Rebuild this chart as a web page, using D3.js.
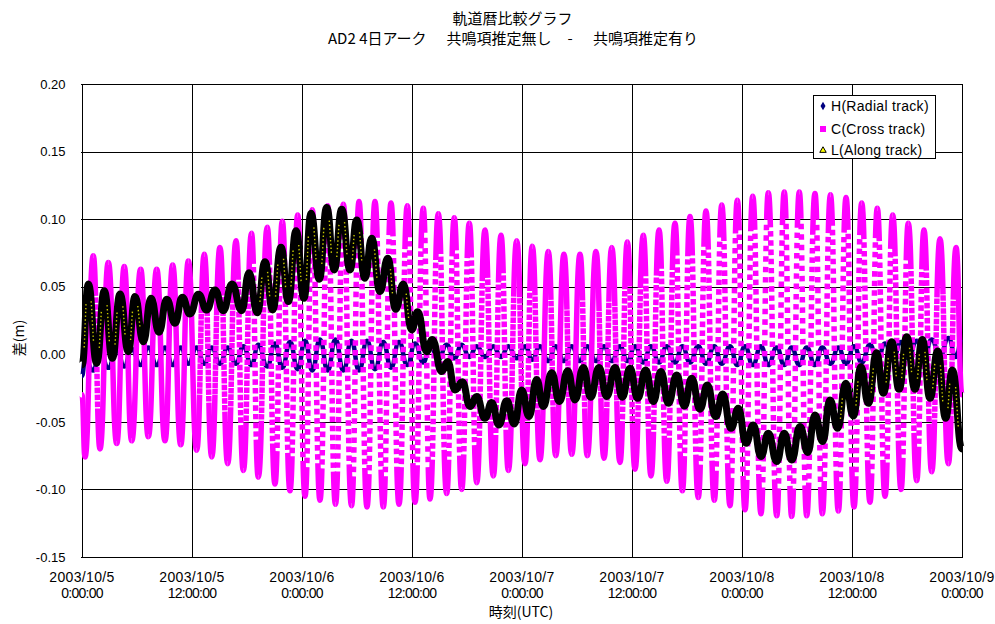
<!DOCTYPE html>
<html>
<head>
<meta charset="utf-8">
<script src="https://cdn.jsdelivr.net/npm/d3@7"></script>
<style>
  body { margin: 0; background: #fff; }
  svg { display: block; }
  text { font-family: "Liberation Sans", Arial, sans-serif; fill: #000; }
  .jp { font-family: "Noto Sans CJK JP", sans-serif; }
</style>
</head>
<body>
<svg id="chart" width="995" height="624"></svg>
<script>
// Orbital extremes (hours after 2003/10/5 0:00 UTC) shared by the H and C series
const extremeHours = [0, 0.33, 1.23, 1.96, 2.87, 3.79, 4.61, 5.42, 6.40, 7.23,
  8.15, 9.05, 9.89, 10.77, 11.60, 12.51, 13.34, 14.15, 15.05, 15.89,
  16.80, 17.60, 18.49, 19.23, 20.21, 21.05, 21.85, 22.69, 23.53, 24.33,
  25.12, 25.96, 26.80, 27.65, 28.51, 29.40, 30.22, 31.09, 31.96, 32.87,
  33.71, 34.58, 35.49, 36.33, 37.23, 37.96, 38.87, 39.78, 40.61, 41.42,
  42.25, 43.06, 43.96, 44.87, 45.71, 46.51, 47.42, 48.33, 49.12, 49.96,
  50.87, 51.68, 52.58, 53.42, 54.33, 55.12, 56.07, 56.95, 57.79, 58.69,
  59.49, 60.33, 61.23, 62.07, 62.95, 63.79, 64.69, 65.49, 66.33, 67.23,
  68.07, 68.98, 69.79, 70.69, 71.49, 72.33, 73.17, 74.07, 74.87, 75.79,
  76.61, 77.42, 78.25, 79.06, 79.96, 80.76, 81.65, 82.51, 83.35, 84.22,
  85.06, 85.96, 86.76, 87.60, 88.44, 89.35, 90.14, 91.06, 91.85, 92.69,
  93.60, 94.51, 95.35, 96.00];

// C (cross track) difference [m] at those times
const crossVals = [-0.030, -0.076,
  0.073, -0.070, 0.068, -0.066, 0.065, -0.064, 0.063, -0.061, 0.063, -0.064,
  0.066, -0.067, 0.069, -0.071, 0.074, -0.076, 0.079, -0.081, 0.084, -0.086,
  0.0895, -0.091, 0.094, -0.096, 0.0985, -0.101, 0.103, -0.105, 0.107, -0.108,
  0.110, -0.111, 0.111, -0.112, 0.113, -0.113, 0.113, -0.113, 0.112, -0.111,
  0.110, -0.1095, 0.108, -0.107, 0.104, -0.103, 0.101, -0.100, 0.097, -0.095,
  0.092, -0.090, 0.088, -0.086, 0.084, -0.081, 0.080, -0.078, 0.076, -0.075,
  0.074, -0.074, 0.074, -0.075, 0.076, -0.077, 0.079, -0.080, 0.083, -0.085,
  0.088, -0.090, 0.092, -0.094, 0.097, -0.101, 0.102, -0.106, 0.106, -0.108,
  0.1105, -0.112, 0.114, -0.115, 0.117, -0.118, 0.1195, -0.1195, 0.120, -0.120,
  0.120, -0.1195, 0.119, -0.118, 0.118, -0.116, 0.116, -0.113, 0.112, -0.1095,
  0.108, -0.105, 0.103, -0.100, 0.097, -0.0935, 0.092, -0.087, 0.0855, -0.081,
  0.079, -0.030];

// H (radial track) difference [m] at those times
const radialVals = [-0.016, -0.004,
  -0.012, 0.003, -0.010, 0.004, -0.009, 0.004, -0.008, 0.005, -0.008, 0.005,
  -0.008, 0.005, -0.007, 0.005, -0.007, 0.005, -0.007, 0.005, -0.007, 0.006,
  -0.008, 0.007, -0.009, 0.008, -0.010, 0.009, -0.011, 0.010, -0.012, 0.011,
  -0.012, 0.011, -0.012, 0.010, -0.012, 0.010, -0.011, 0.009, -0.010, 0.009,
  -0.008, 0.008, -0.006, 0.007, -0.004, 0.007, -0.003, 0.007, -0.002, 0.006,
  -0.002, 0.006, -0.002, 0.006, -0.003, 0.006, -0.004, 0.006, -0.005, 0.006,
  -0.005, 0.006, -0.005, 0.006, -0.005, 0.006, -0.005, 0.006, -0.005, 0.006,
  -0.006, 0.006, -0.006, 0.006, -0.006, 0.006, -0.006, 0.006, -0.007, 0.006,
  -0.007, 0.006, -0.008, 0.006, -0.008, 0.006, -0.008, 0.005, -0.008, 0.005,
  -0.008, 0.005, -0.008, 0.005, -0.007, 0.005, -0.007, 0.006, -0.006, 0.007,
  -0.005, 0.008, -0.004, 0.009, -0.003, 0.010, -0.003, 0.011, -0.002, 0.012,
  -0.002, 0.012];

// L (along track) extremes: hours and difference [m]
const alongHours = [0, 0.69, 1.60, 2.43, 3.31, 4.15, 5.05, 5.78, 6.69, 7.53,
  8.40, 9.24, 10.15, 10.94, 11.78, 12.71, 13.60, 14.51, 15.41, 16.36,
  17.42, 18.22, 19.12, 19.96, 20.80, 21.71, 22.51, 23.35, 24.22, 24.98,
  25.89, 26.69, 27.52, 28.33, 29.24, 29.97, 30.87, 31.60, 32.51, 33.35,
  34.22, 35.05, 35.97, 36.62, 37.60, 38.21, 39.24, 39.89, 40.69, 41.49,
  42.33, 43.06, 43.96, 44.69, 45.49, 46.33, 47.16, 47.97, 48.76, 49.60,
  50.32, 51.24, 52.07, 52.99, 53.78, 54.69, 55.49, 56.40, 57.24, 58.15,
  58.94, 59.78, 60.62, 61.49, 62.32, 63.16, 63.96, 64.88, 65.71, 66.51,
  67.42, 68.21, 69.13, 69.89, 70.80, 71.60, 72.44, 73.23, 74.07, 74.87,
  75.79, 76.61, 77.42, 78.33, 79.17, 79.96, 80.80, 81.60, 82.44, 83.31,
  84.14, 84.98, 85.78, 86.69, 87.41, 88.33, 89.13, 89.97, 90.87, 91.67,
  92.51, 93.35, 94.22, 94.94, 96.00];
const alongVals = [-0.008, 0.052, -0.0067, 0.047, -0.003, 0.0446, 0.0019, 0.0427, 0.0093, 0.0414,
  0.0163, 0.0407, 0.0229, 0.0422, 0.0298, 0.0444, 0.0328, 0.0476, 0.0323, 0.052,
  0.0323, 0.0604, 0.0308, 0.0685, 0.0328, 0.0792, 0.039, 0.0915, 0.0414, 0.1043,
  0.0555, 0.1087, 0.0624, 0.1073, 0.0624, 0.0994, 0.0562, 0.0858, 0.0464, 0.071,
  0.0333, 0.052, 0.018, 0.0315, 0.0019, 0.011, -0.0128, -0.0054, -0.0264, -0.0203,
  -0.0387, -0.0313, -0.0474, -0.0357, -0.0523, -0.0343, -0.0516, -0.0264, -0.046, -0.0186,
  -0.0387, -0.0136, -0.035, -0.0122, -0.0338, -0.0097, -0.0318, -0.0097, -0.0313, -0.0097,
  -0.0318, -0.0104, -0.0326, -0.0116, -0.035, -0.0128, -0.0363, -0.0153, -0.0383, -0.0178,
  -0.0407, -0.0227, -0.0461, -0.0294, -0.0548, -0.040, -0.0659, -0.0523, -0.0757, -0.0585,
  -0.0794, -0.0585, -0.0782, -0.0535, -0.0727, -0.0449, -0.0646, -0.0338, -0.0548, -0.0215,
  -0.0457, -0.0092, -0.0363, 0.0012, -0.0289, 0.0093, -0.0259, 0.013, -0.0259, 0.011,
  -0.0326, 0.0025, -0.0474, -0.0116, -0.070];

const yTickValues = [0.20, 0.15, 0.10, 0.05, 0.00, -0.05, -0.10, -0.15];
const seriesNames = ["H(Radial track)", "C(Cross track)", "L(Along track)"];
const titleMain = "軌道暦比較グラフ";
const subtitleParts = ["AD2 4日アーク", "共鳴項推定無し", "-", "共鳴項推定有り"];
const xTitle = "時刻(UTC)";
const yTitle = "差(m)";

const t0 = Date.UTC(2003, 9, 5);
const toDate = h => new Date(t0 + h * 3600e3);

const plot = { left: 82, right: 962, top: 84, bottom: 557 };
const x = d3.scaleUtc().domain([toDate(0), toDate(96)]).range([plot.left, plot.right]);
const y = d3.scaleLinear().domain([-0.15, 0.20]).range([plot.bottom, plot.top]);

const svg = d3.select("#chart");

// titles
svg.append("text").attr("class", "jp").attr("x", 512.5).attr("y", 24)
  .attr("text-anchor", "middle").attr("font-size", 15).text(titleMain);
const sub = svg.append("text").attr("class", "jp").attr("y", 43.5).attr("font-size", 15);
sub.append("tspan").attr("x", 328).text(subtitleParts[0]);
sub.append("tspan").attr("x", 446.5).text(subtitleParts[1]);
sub.append("tspan").attr("x", 570).attr("text-anchor", "middle").text(subtitleParts[2]);
sub.append("tspan").attr("x", 593).text(subtitleParts[3]);

// grid
const xTicks = x.ticks(d3.utcHour.every(12));
const grid = svg.append("g").attr("stroke", "#000").attr("stroke-width", 1).attr("shape-rendering", "crispEdges");
grid.selectAll("line.h").data(yTickValues).join("line")
  .attr("x1", plot.left - 1).attr("x2", plot.right)
  .attr("y1", d => Math.round(y(d)) + 0.5).attr("y2", d => Math.round(y(d)) + 0.5);
grid.selectAll("line.v").data(xTicks).join("line")
  .attr("y1", plot.top).attr("y2", plot.bottom + 1)
  .attr("x1", d => Math.round(x(d)) + 0.5).attr("x2", d => Math.round(x(d)) + 0.5);

// tick labels
svg.append("g").selectAll("text").data(yTickValues).join("text")
  .attr("x", 65.5).attr("y", d => y(d) + 4.7).attr("text-anchor", "end")
  .attr("font-size", 13).text(d => d.toFixed(2));
const fmtDay = d3.utcFormat("%Y/%-m/%-d");
const fmtTime = d3.utcFormat("%-H:%M:%S");
const xl = svg.append("g").selectAll("text").data(xTicks).join("text")
  .attr("text-anchor", "middle").attr("font-size", 14);
xl.append("tspan").attr("x", d => x(d)).attr("y", 581.7).attr("letter-spacing", 0.35).text(fmtDay);
xl.append("tspan").attr("x", d => x(d)).attr("y", 598.3).attr("letter-spacing", -0.75).text(fmtTime);

svg.append("text").attr("class", "jp").attr("x", 521).attr("y", 617)
  .attr("text-anchor", "middle").attr("font-size", 14).text(xTitle);
svg.append("text").attr("class", "jp").attr("transform", "translate(24,338) rotate(-90)")
  .attr("text-anchor", "middle").attr("font-size", 14).text(yTitle);

// dense 1-minute markers: solid where they overlap, spaced where the sweep is steep
function markerDash(len, D, n, m) {
  const R = Math.PI * D / (2 * n);
  if (R < m * 1.1) return null;
  const g = R - m;
  const s = (D / 2) * (1 - Math.sqrt(1 - (m / R) ** 2)) + m / 2;
  const k = Math.floor((len - 2 * s - g) / (m + g));
  if (k < 1) return null;
  const arr = [s];
  for (let j = 0; j < k; j++) arr.push(g, m);
  arr.push(g, len - s - k * (m + g) - g + 10, 0);
  return arr.map(v => v.toFixed(2)).join(",");
}
function centreDots(len, s, dash, gap) {
  const arr = [0, s];
  let used = s;
  while (used + dash + gap < len - s) { arr.push(dash, gap); used += dash + gap; }
  arr.push(0, len + 10);
  return arr.map(v => v.toFixed(2)).join(",");
}

const bump = d3.line().curve(d3.curveBumpX);

// H series
const radialPts = extremeHours.map((h, i) => [x(toDate(h)), y(radialVals[i])]);
svg.append("path").attr("d", bump(radialPts)).attr("fill", "none")
  .attr("stroke", "#000080").attr("stroke-width", 4.5);

// C series
const gC = svg.append("g").attr("fill", "none").attr("stroke", "#ff00ff").attr("stroke-width", 5.5);
const crossPts = extremeHours.map((h, i) => [x(toDate(h)), y(crossVals[i])]);
for (let i = 0; i < crossPts.length - 1; i++) {
  const a = crossPts[i], b = crossPts[i + 1];
  const p = gC.append("path").attr("d", bump([a, b]));
  const len = p.node().getTotalLength();
  const dash = markerDash(len, Math.abs(b[1] - a[1]), (extremeHours[i + 1] - extremeHours[i]) * 60, 5.5);
  if (dash) p.attr("stroke-dasharray", dash);
}

// L series
const alongPts = alongHours.map((h, i) => [x(toDate(h)), y(alongVals[i])]);
svg.append("path").attr("d", bump(alongPts)).attr("fill", "none")
  .attr("stroke", "#000").attr("stroke-width", 7).attr("stroke-linejoin", "round");
const gY = svg.append("g").attr("fill", "none").attr("stroke", "#c8c800").attr("stroke-width", 1.4);
for (let i = 0; i < alongPts.length - 1; i++) {
  const a = alongPts[i], b = alongPts[i + 1];
  const D = Math.abs(b[1] - a[1]);
  if (D < 45) continue;
  const p = gY.append("path").attr("d", bump([a, b]));
  const len = p.node().getTotalLength();
  p.attr("stroke-dasharray", centreDots(len, len * 0.22, 1.4, 2.4));
}

// legend
const lg = svg.append("g");
lg.append("rect").attr("x", 813.5).attr("y", 95.5).attr("width", 122).attr("height", 63)
  .attr("fill", "#fff").attr("stroke", "#000");
const rowsY = [106, 129, 150];
lg.append("path").attr("transform", `translate(823,${rowsY[0]})`)
  .attr("d", d3.symbol(d3.symbolDiamond, 22)()).attr("fill", "#000080");
lg.append("rect").attr("x", 820).attr("y", rowsY[1] - 3).attr("width", 6).attr("height", 6).attr("fill", "#ff00ff");
lg.append("path").attr("transform", `translate(823,${rowsY[2] + 0.5})`)
  .attr("d", d3.symbol(d3.symbolTriangle, 18)()).attr("fill", "#ffff00").attr("stroke", "#000").attr("stroke-width", 1);
lg.selectAll("text").data(seriesNames).join("text")
  .attr("x", 831).attr("y", (d, i) => rowsY[i] + 4.8).attr("font-size", 14)
  .attr("letter-spacing", 0.3).text(d => d);
</script>
</body>
</html>
